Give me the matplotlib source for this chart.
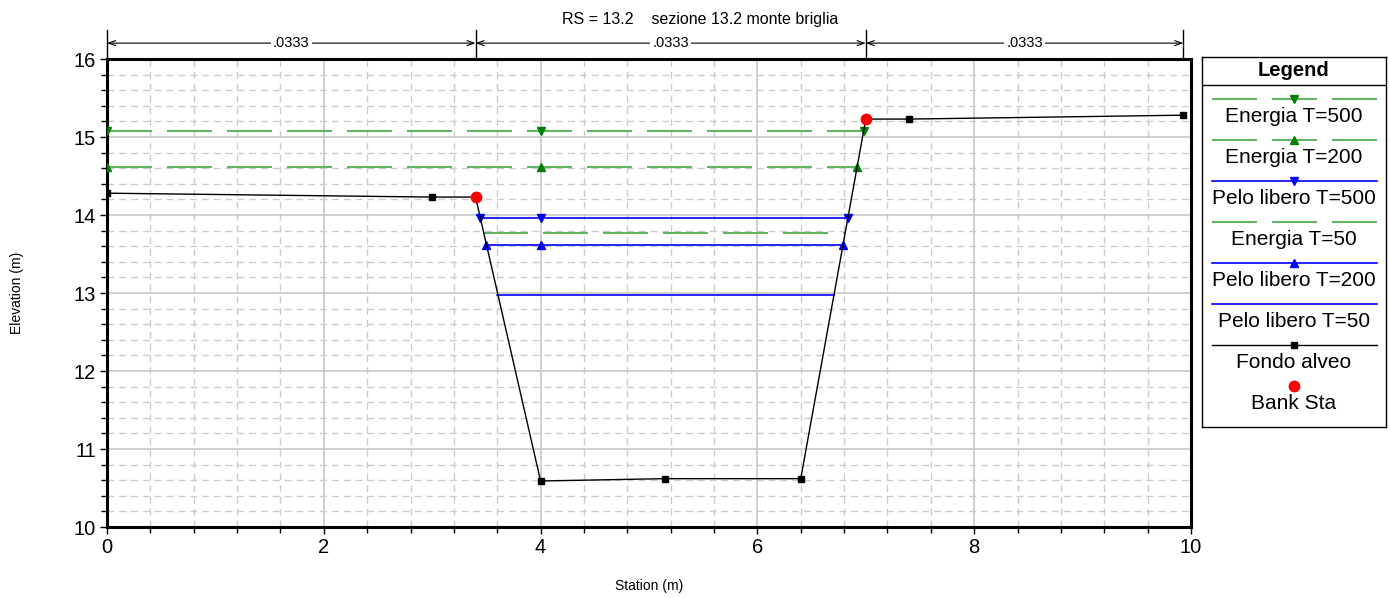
from matplotlib import pyplot as plt
from matplotlib.ticker import MultipleLocator
import numpy as np

plt.rcParams["font.family"] = ["Liberation Sans", "DejaVu Sans"]

# ground profile
ground_sta = [0.0, 3.0, 3.4, 4.0, 5.15, 6.4, 7.0, 7.4, 9.93]
ground_elev = [14.28, 14.23, 14.23, 10.59, 10.62, 10.62, 15.23, 15.23, 15.28]

bank_sta = [3.4, 7.0]
bank_elev = [14.23, 15.23]

# water surfaces: stations where each line is drawn, and its elevation
energia_500_sta = [0.0, 4.0, 6.98]
energia_500_z = 15.08
energia_200_sta = [0.0, 4.0, 6.92]
energia_200_z = 14.62
pelo_500_sta = [3.44, 4.0, 6.84]
pelo_500_z = 13.96
energia_50_sta = [3.47, 6.81]
energia_50_z = 13.77
pelo_200_sta = [3.5, 4.0, 6.79]
pelo_200_z = 13.61
pelo_50_sta = [3.6, 6.71]
pelo_50_z = 12.98

# manning n regions
n_edges = [0.0, 3.4, 7.0, 9.93]
n_values = [".0333", ".0333", ".0333"]

LINE_GREEN = "#62b462"
MARK_GREEN = "#008000"
ENERGY_DASH = (0, (21.6, 7.2))

series = [
    ("Energia T=500", energia_500_sta, energia_500_z, dict(color=LINE_GREEN, lw=1.5, ls=ENERGY_DASH, marker="v", mfc=MARK_GREEN, mec=MARK_GREEN, ms=5.5)),
    ("Energia T=200", energia_200_sta, energia_200_z, dict(color=LINE_GREEN, lw=1.5, ls=ENERGY_DASH, marker="^", mfc=MARK_GREEN, mec=MARK_GREEN, ms=5.5)),
    ("Pelo libero T=500", pelo_500_sta, pelo_500_z, dict(color="blue", lw=1.2, ls="-", marker="v", mfc="blue", mec="blue", ms=5.5)),
    ("Energia T=50", energia_50_sta, energia_50_z, dict(color=LINE_GREEN, lw=1.5, ls=ENERGY_DASH)),
    ("Pelo libero T=200", pelo_200_sta, pelo_200_z, dict(color="blue", lw=1.2, ls="-", marker="^", mfc="blue", mec="blue", ms=5.5)),
    ("Pelo libero T=50", pelo_50_sta, pelo_50_z, dict(color="blue", lw=1.2, ls="-")),
]

fig = plt.figure(figsize=(13.9, 5.98), dpi=100)
ax = fig.add_axes([0.077, 0.1187, 0.7798, 0.7826])

for name, sta, z, style in series:
    ax.plot(sta, [z] * len(sta), **style, zorder=3)

ax.plot(ground_sta, ground_elev, color="black", lw=1, marker="s", ms=5, zorder=4)
ax.plot(bank_sta, bank_elev, ls="none", marker="o", color="red", ms=7.5, zorder=5)

ax.set_xlim(0, 10)
ax.set_ylim(10, 16)
ax.xaxis.set_major_locator(MultipleLocator(2))
ax.xaxis.set_minor_locator(MultipleLocator(0.4))
ax.yaxis.set_major_locator(MultipleLocator(1))
ax.yaxis.set_minor_locator(MultipleLocator(0.2))
ax.grid(which="major", color="#c8c8c8", lw=1.2, ls="-")
ax.grid(which="minor", color="#cccccc", lw=1.0, ls=(0, (5, 3.5)))
ax.set_axisbelow(True)
ax.tick_params(which="major", direction="out", length=5, width=1, labelsize=14.5, pad=3)
ax.tick_params(which="minor", direction="out", length=4, width=1)
for s in ax.spines.values():
    s.set_linewidth(2.2)

ax.set_xlabel("Station (m)", fontsize=10, labelpad=16)
ax.set_ylabel("Elevation (m)", fontsize=10, labelpad=36)

# manning n dimension lines above the plot
for x in n_edges:
    ax.plot([x, x], [1.0, 1.062], transform=ax.get_xaxis_transform(), color="black", lw=1, clip_on=False)
for i, label in enumerate(n_values):
    x0, x1 = n_edges[i], n_edges[i + 1]
    ax.annotate("", xy=(x1, 1.034), xytext=(x0, 1.034), xycoords=("data", "axes fraction"),
                arrowprops=dict(arrowstyle="<->,head_length=0.5,head_width=0.18", lw=0.8, color="black",
                                shrinkA=0, shrinkB=0))
    ax.text((x0 + x1) / 2, 1.034, label, transform=ax.get_xaxis_transform(), ha="center", va="center",
            fontsize=10.5, bbox=dict(facecolor="white", edgecolor="none", pad=1.5))

fig.text(0.504, 0.968, "RS = 13.2    sezione 13.2 monte briglia", ha="center", va="center", fontsize=11.5)

# legend box
lax = fig.add_axes([0.8647, 0.286, 0.1323, 0.6187])
lax.set_xlim(0, 184)
lax.set_ylim(370, 0)
lax.set_xticks([])
lax.set_yticks([])
for s in lax.spines.values():
    s.set_linewidth(1)
lax.text(92, 14, "Legend", ha="center", va="center", fontsize=14.5, fontweight="bold")
lax.axhline(28, color="black", lw=1)

entries = [(name, style) for name, _, _, style in series]
entries.append(("Fondo alveo", dict(color="black", lw=1, marker="s", ms=5)))
for i, (name, style) in enumerate(entries):
    yl = 42 + 41 * i
    lax.plot([10, 92, 175], [yl] * 3, markevery=[1], **style)
    lax.text(92, yl + 18, name, ha="center", va="center", fontsize=15)
yb = 42 + 41 * len(entries)
lax.plot([92], [yb], ls="none", marker="o", color="red", ms=7.5)
lax.text(92, yb + 18, "Bank Sta", ha="center", va="center", fontsize=15)

fig.savefig("out.png", dpi=100)
